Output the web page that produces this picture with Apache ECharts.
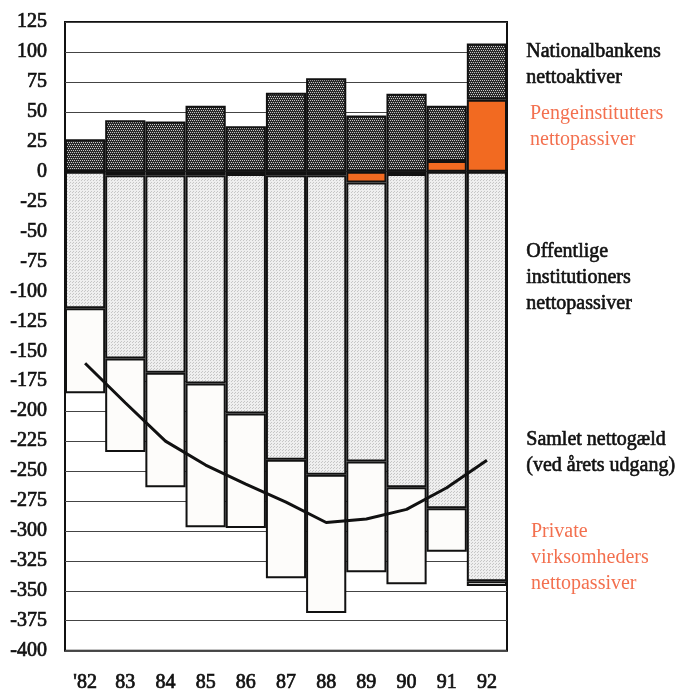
<!DOCTYPE html>
<html>
<head>
<meta charset="utf-8">
<script src="https://cdn.jsdelivr.net/npm/echarts@6/dist/echarts.min.js"></script>
<style>
  html, body { margin: 0; padding: 0; background: #ffffff; }
  #chart { width: 682px; height: 693px; }
</style>
</head>
<body>
<div id="chart"></div>
<script>
// Years (x-axis categories)
var years = ["'82", '83', '84', '85', '86', '87', '88', '89', '90', '91', '92'];

// Net positions, billion kr.
var nationalbanken = [27, 43, 42, 55, 38, 66, 78, 47, 65, 46, 47];           // net assets
var pengeinstitutter = [0, -3, -3, -3, -2, -3, -3, -9, -2, 9, 60];           // net liabilities
var offentlige = [-114, -153, -165, -174, -200, -237.5, -250, -233, -261.5, -281, -342];
var private_ = [-71, -78, -95.5, -120, -95.5, -99, -115.5, -92.5, -81, -36.5, -4];
var samletGaeld = [-160, -193, -225, -245, -261, -276, -293, -290, -282, -264, -241]; // end of year

// y-axis range
var yMin = -400, yMax = 125, yStep = 25;

// Fine dot textures used as bar fills
function dotPattern(size, bg, fg, dots) {
  var c = document.createElement('canvas');
  c.width = size; c.height = size;
  var ctx = c.getContext('2d');
  ctx.fillStyle = bg;
  ctx.fillRect(0, 0, size, size);
  ctx.fillStyle = fg;
  dots.forEach(function (d) { ctx.fillRect(d[0], d[1], 1, 1); });
  return { image: c, repeat: 'repeat' };
}
var darkFill = dotPattern(4, '#2a2a2a', '#c8c8c8', [[0, 0], [2, 0], [1, 2], [3, 2]]);
var lightFill = dotPattern(3, '#efefef', '#c6c6c6', [[0, 0], [1, 2]]);

var FONT = 'Liberation Serif';
var INK = '#111';
var ORANGE = '#f26a21';
var ORANGE_TEXT = '#f3704f';

var barBorder = { borderColor: INK, borderWidth: 2 };

// Shared look of the tick labels: a slightly heavy serif
var tickText = {
  fontFamily: FONT, fontSize: 20, color: INK,
  textBorderColor: INK, textBorderWidth: 0.7
};

var chart = echarts.init(document.getElementById('chart'), null, { renderer: 'canvas' });

function label(x, y, text, color, strokeW) {
  return {
    type: 'text', left: x, top: y, z: 10,
    style: {
      text: text, font: '20px "' + FONT + '"',
      fill: color, stroke: color, lineWidth: strokeW, lineHeight: 26
    }
  };
}

chart.setOption({
  animation: false,
  backgroundColor: '#ffffff',
  grid: {
    left: 65, right: 175, top: 22, bottom: 40,
    show: true, backgroundColor: '#ffffff', borderColor: INK, borderWidth: 2
  },
  xAxis: {
    type: 'category',
    data: years,
    axisLine: { show: false },
    axisTick: { show: false },
    axisLabel: Object.assign({ margin: 22 }, tickText)
  },
  yAxis: {
    type: 'value',
    min: yMin, max: yMax, interval: yStep,
    axisLine: { show: false },
    axisTick: { show: false },
    axisLabel: Object.assign({ margin: 18 }, tickText),
    splitLine: { show: true, lineStyle: { color: '#444', width: 1 } }
  },
  series: [
    {
      name: 'Pengeinstitutters nettopassiver', type: 'bar', stack: 'total',
      barCategoryGap: '0%', data: pengeinstitutter,
      itemStyle: Object.assign({ color: ORANGE }, barBorder)
    },
    {
      name: 'Nationalbankens nettoaktiver', type: 'bar', stack: 'total',
      data: nationalbanken,
      itemStyle: Object.assign({ color: darkFill }, barBorder)
    },
    {
      name: 'Offentlige institutioners nettopassiver', type: 'bar', stack: 'total',
      data: offentlige,
      itemStyle: Object.assign({ color: lightFill }, barBorder)
    },
    {
      name: 'Private virksomheders nettopassiver', type: 'bar', stack: 'total',
      data: private_,
      itemStyle: Object.assign({ color: '#fdfcfa' }, barBorder)
    },
    {
      name: 'Samlet nettogæld', type: 'line', data: samletGaeld, z: 5,
      symbol: 'none', lineStyle: { color: INK, width: 3 }
    }
  ],
  graphic: [
    label(526, 39, 'Nationalbankens\nnettoaktiver', INK, 0.6),
    label(530, 101, 'Pengeinstitutters\nnettopassiver', ORANGE_TEXT, 0),
    label(526, 239, 'Offentlige\ninstitutioners\nnettopassiver', INK, 0.6),
    label(526, 427, 'Samlet nettogæld\n(ved årets udgang)', INK, 0.6),
    label(531, 519, 'Private\nvirksomheders\nnettopassiver', ORANGE_TEXT, 0)
  ]
});
</script>
</body>
</html>
